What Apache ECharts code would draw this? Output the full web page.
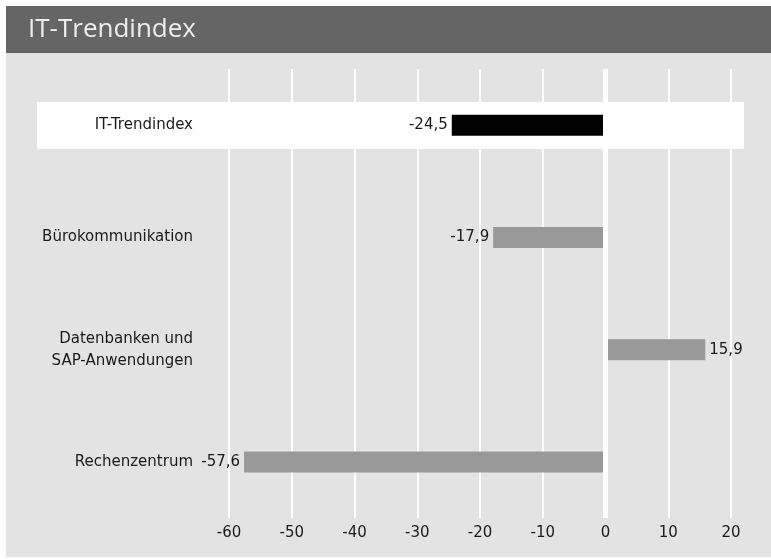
<!DOCTYPE html>
<html>
<head>
<meta charset="utf-8">
<script src="https://cdn.jsdelivr.net/npm/echarts@6/dist/echarts.min.js"></script>
<style>
html,body{margin:0;padding:0;background:#fff;}
#c{width:771px;height:559px;}
</style>
</head>
<body>
<div id="c"></div>
<script>
const categories = ['IT-Trendindex', 'Bürokommunikation', 'Datenbanken und\nSAP-Anwendungen', 'Rechenzentrum'];
const values = [-24.5, -17.9, 15.9, -57.6];
const barColors = ['#000000', '#999999', '#999999', '#999999'];
const xTicks = [-60, -50, -40, -30, -20, -10, 0, 10, 20];

const chart = echarts.init(document.getElementById('c'), null, {renderer: 'canvas'});
const font = '"DejaVu Sans", sans-serif';
const titleFont = '"Open Sans", "DejaVu Sans", sans-serif';

const data = values.map((v, i) => ({
  value: v,
  itemStyle: {color: barColors[i]},
  label: {position: v < 0 ? 'left' : 'right'}
}));

chart.setOption({
  backgroundColor: '#ffffff',
  animation: false,
  title: {
    text: 'IT-Trendindex',
    left: 23, top: 12,
    textStyle: {color: '#eeeeee', fontSize: 26, fontWeight: 'normal', fontFamily: titleFont}
  },
  graphic: [
    {type: 'rect', z: -10, shape: {x: 6, y: 6, width: 765, height: 47}, style: {fill: '#656565'}},
    {type: 'rect', z: -10, shape: {x: 6, y: 53, width: 765, height: 504}, style: {fill: '#e3e3e3'}},
    {type: 'rect', z: -9, shape: {x: 37, y: 102, width: 707, height: 47}, style: {fill: '#ffffff'}}
  ],
  grid: {left: 229, right: 40, top: 69, bottom: 41, containLabel: false},
  xAxis: {
    type: 'value',
    min: xTicks[0], max: xTicks[xTicks.length - 1], interval: 10,
    axisLine: {show: false},
    axisTick: {show: false},
    axisLabel: {color: '#1a1a1a', fontSize: 15, fontFamily: font, margin: 8},
    splitLine: {show: true, lineStyle: {color: '#ffffff', width: 2}}
  },
  yAxis: {
    type: 'category',
    inverse: true,
    data: categories,
    axisLine: {show: false},
    axisTick: {show: false},
    axisLabel: {color: '#1a1a1a', fontSize: 15, fontFamily: font, margin: 36, lineHeight: 22, align: 'right'}
  },
  series: [{
    type: 'bar',
    data: data,
    barWidth: 21,
    z: 2,
    label: {
      show: true, distance: 4, color: '#1a1a1a', fontSize: 15, fontFamily: font,
      formatter: p => String(p.value).replace('.', ',')
    },
    markLine: {
      silent: true, symbol: 'none', z: 3,
      label: {show: false},
      lineStyle: {color: '#ffffff', width: 5, type: 'solid'},
      data: [{xAxis: 0}]
    }
  }]
});
</script>
</body>
</html>
